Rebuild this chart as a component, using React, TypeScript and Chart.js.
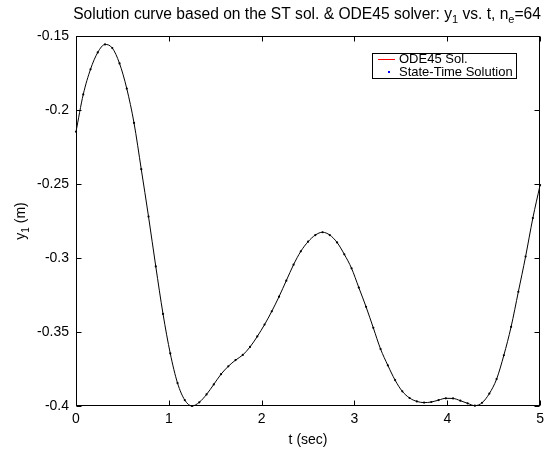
import React, { useEffect, useRef } from "react";
import { Chart, registerables } from "chart.js";

Chart.register(...registerables);

// ---------- data ----------
const timeValues = [
  0, 0.0781, 0.1563, 0.2344, 0.3125, 0.3906, 0.4688, 0.5469, 0.625, 0.7031,
  0.7813, 0.8594, 0.9375, 1.0156, 1.0938, 1.1719, 1.25, 1.3281, 1.4063, 1.4844,
  1.5625, 1.6406, 1.7188, 1.7969, 1.875, 1.9531, 2.0313, 2.1094, 2.1875, 2.2656,
  2.3438, 2.4219, 2.5, 2.5781, 2.6563, 2.7344, 2.8125, 2.8906, 2.9688, 3.0469,
  3.125, 3.2031, 3.2813, 3.3594, 3.4375, 3.5156, 3.5938, 3.6719, 3.75, 3.8281,
  3.9063, 3.9844, 4.0625, 4.1406, 4.2188, 4.2969, 4.375, 4.4531, 4.5313, 4.6094,
  4.6875, 4.7656, 4.8438, 4.9219, 5,
];

const y1Values = [
  -0.2147, -0.1895, -0.1725, -0.1611, -0.1557, -0.1581, -0.1685, -0.1855, -0.2087, -0.24,
  -0.272, -0.3057, -0.3378, -0.3645, -0.3845, -0.396, -0.4, -0.3975, -0.3922, -0.3854,
  -0.3785, -0.3732, -0.369, -0.3655, -0.3601, -0.353, -0.345, -0.336, -0.3261, -0.3153,
  -0.3045, -0.2955, -0.289, -0.2845, -0.2826, -0.2845, -0.2895, -0.2975, -0.307, -0.32,
  -0.333, -0.3472, -0.3615, -0.3725, -0.3825, -0.3901, -0.3946, -0.3969, -0.3977, -0.3973,
  -0.396, -0.3948, -0.3949, -0.3964, -0.3982, -0.3998, -0.3978, -0.3916, -0.3818, -0.3657,
  -0.3465, -0.3228, -0.299, -0.273, -0.2507,
];

const xRange = [0, 5];
const yRange = [-0.4, -0.15];
const xStep = 1;
const yStep = 0.05;

const seriesLabels = ["ODE45 Sol.", "State-Time Solution"];
const titleParts = [
  { text: "Solution curve based on the ST sol. & ODE45 solver: y" },
  { text: "1", sub: true },
  { text: " vs. t, n" },
  { text: "e", sub: true },
  { text: "=64" },
];
const yTitleParts = [{ text: "y" }, { text: "1", sub: true }, { text: " (m)" }];
const xTitle = "t (sec)";

// ---------- styles ----------
const FONT_FAMILY = "'Liberation Sans', Arial, Helvetica, sans-serif";
const MAIN_SIZE = 14;
const SUB_SIZE = 10;
const TITLE_SIZE = 15.6;
const TITLE_SUB_SIZE = 11;

type Part = { text: string; sub?: boolean };

function drawRich(ctx: CanvasRenderingContext2D, parts: Part[], cx: number, baseline: number, size = MAIN_SIZE, subSize = SUB_SIZE) {
  let total = 0;
  const widths = parts.map((p) => {
    ctx.font = `${p.sub ? subSize : size}px ${FONT_FAMILY}`;
    const w = ctx.measureText(p.text).width;
    total += w;
    return w;
  });
  let x = cx - total / 2;
  ctx.textAlign = "left";
  ctx.textBaseline = "alphabetic";
  parts.forEach((p, i) => {
    ctx.font = `${p.sub ? subSize : size}px ${FONT_FAMILY}`;
    ctx.fillText(p.text, x, baseline + (p.sub ? 4 : 0));
    x += widths[i];
  });
}

const decorPlugin = {
  id: "matlabDecor",
  afterDraw(chart: any) {
    const { ctx, chartArea: a, scales } = chart;
    const xs = scales.x;
    const ys = scales.y;
    ctx.save();
    ctx.strokeStyle = "#000";
    ctx.fillStyle = "#000";
    ctx.lineWidth = 1;
    const L = Math.round(a.left) + 0.5;
    const T = Math.round(a.top) + 0.5;
    const R = Math.round(a.right) - 0.5;
    const B = Math.round(a.bottom) - 0.5;
    ctx.strokeRect(L, T, R - L, B - T);
    // inside ticks on all four sides
    ctx.beginPath();
    xs.ticks.forEach((t: any) => {
      const px = Math.round(xs.getPixelForValue(t.value)) + 0.5;
      ctx.moveTo(px, B);
      ctx.lineTo(px, B - 5);
      ctx.moveTo(px, T);
      ctx.lineTo(px, T + 5);
    });
    ys.ticks.forEach((t: any) => {
      const py = Math.round(ys.getPixelForValue(t.value)) + 0.5;
      ctx.moveTo(L, py);
      ctx.lineTo(L + 5, py);
      ctx.moveTo(R, py);
      ctx.lineTo(R - 5, py);
    });
    ctx.stroke();

    // title
    drawRich(ctx, titleParts, (a.left + a.right) / 2 - 1, 19, TITLE_SIZE, TITLE_SUB_SIZE);

    // x title
    ctx.font = `${MAIN_SIZE}px ${FONT_FAMILY}`;
    ctx.textAlign = "center";
    ctx.textBaseline = "alphabetic";
    ctx.fillText(xTitle, (a.left + a.right) / 2, 444);

    // y title (rotated)
    ctx.save();
    ctx.translate(25, (a.top + a.bottom) / 2);
    ctx.rotate(-Math.PI / 2);
    drawRich(ctx, yTitleParts, 0, 0);
    ctx.restore();

    // legend box
    const lx = 372.5, ly = 53.5, lw = 144, lh = 25;
    ctx.fillStyle = "#fff";
    ctx.fillRect(lx, ly, lw, lh);
    ctx.strokeStyle = "#000";
    ctx.strokeRect(lx, ly, lw, lh);
    ctx.beginPath();
    ctx.strokeStyle = "#ff0000";
    ctx.moveTo(378, 59.5);
    ctx.lineTo(395, 59.5);
    ctx.stroke();
    ctx.fillStyle = "#0000ff";
    ctx.fillRect(388, 71, 2, 2);
    ctx.fillStyle = "#000";
    ctx.font = `13px ${FONT_FAMILY}`;
    ctx.textAlign = "left";
    ctx.save();
    ctx.beginPath();
    ctx.rect(lx, ly, lw, lh);
    ctx.clip();
    ctx.fillText(seriesLabels[0], 399, 63);
    ctx.fillText(seriesLabels[1], 399, 76);
    ctx.restore();
    ctx.restore();
  },
};

export default function App() {
  const canvasRef = useRef<HTMLCanvasElement | null>(null);

  useEffect(() => {
    if (!canvasRef.current) return;
    const points = timeValues.map((t, i) => ({ x: t, y: y1Values[i] }));
    const tickFont = { family: FONT_FAMILY, size: MAIN_SIZE };
    const chart = new Chart(canvasRef.current, {
      type: "scatter",
      data: {
        datasets: [
          {
            label: seriesLabels[0],
            data: points,
            showLine: true,
            borderColor: "#000",
            borderWidth: 1,
            pointRadius: 0,
            cubicInterpolationMode: "monotone",
            fill: false,
            clip: 2,
          } as any,
          {
            label: seriesLabels[1],
            data: points,
            showLine: false,
            pointRadius: 1.1,
            pointBorderWidth: 0,
            pointBackgroundColor: "#000",
            clip: 2,
          } as any,
        ],
      },
      options: {
        animation: false,
        responsive: false,
        devicePixelRatio: 1,
        layout: { padding: { top: 36, right: 3, left: 0, bottom: 0 } },
        plugins: {
          legend: { display: false },
          tooltip: { enabled: false },
          title: { display: false },
        },
        scales: {
          x: {
            type: "linear",
            min: xRange[0],
            max: xRange[1],
            ticks: { stepSize: xStep, color: "#000", font: tickFont, padding: 5, maxRotation: 0 },
            grid: { display: false, drawTicks: false },
            border: { display: false },
            afterFit: (s: any) => {
              s.height = 45;
            },
          },
          y: {
            type: "linear",
            min: yRange[0],
            max: yRange[1],
            ticks: {
              stepSize: yStep,
              color: "#000",
              font: tickFont,
              padding: 7,
              callback: (v: any) => String(Number(Number(v).toFixed(2))),
            },
            grid: { display: false, drawTicks: false },
            border: { display: false },
            afterFit: (s: any) => {
              s.width = 76;
            },
          },
        },
      },
      plugins: [decorPlugin],
    });
    return () => chart.destroy();
  }, []);

  return (
    <div style={{ position: "absolute", left: 0, top: 0, width: 549, height: 451, background: "#fff" }}>
      <canvas ref={canvasRef} width={549} height={451} style={{ display: "block" }} />
    </div>
  );
}
